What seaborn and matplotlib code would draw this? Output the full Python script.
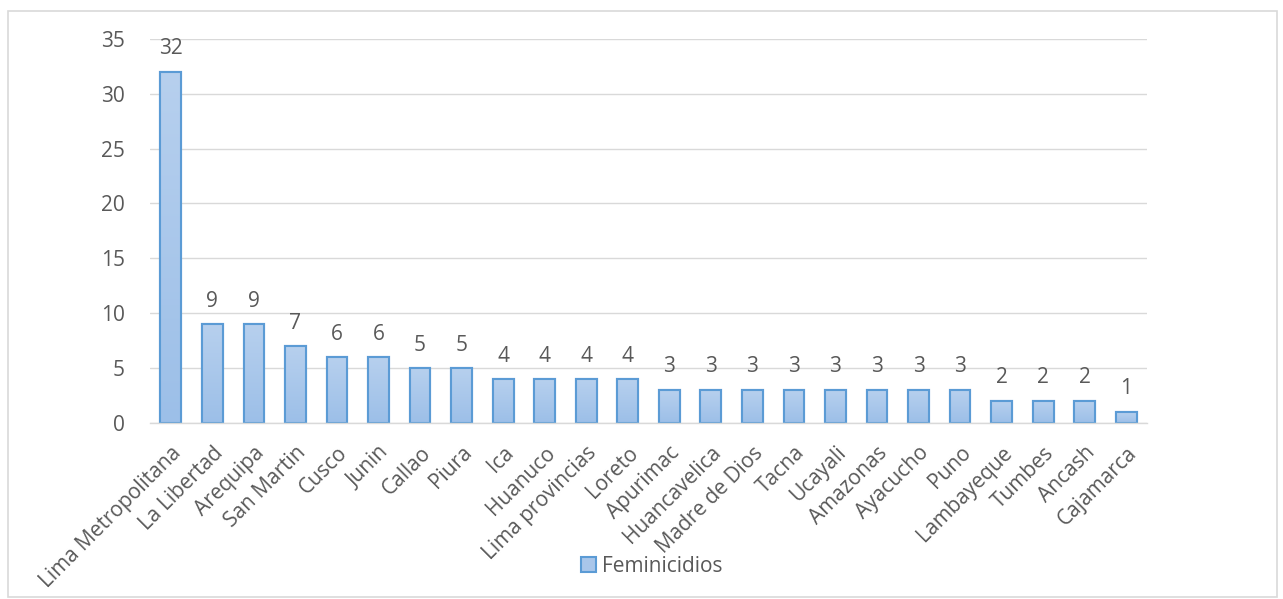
import matplotlib
matplotlib.use("Agg")
import matplotlib.pyplot as plt
import seaborn as sns
import pandas as pd
import numpy as np
from matplotlib.patches import Rectangle
from matplotlib.colors import LinearSegmentedColormap

regions = ["Lima Metropolitana", "La Libertad", "Arequipa", "San Martin", "Cusco", "Junin",
           "Callao", "Piura", "Ica", "Huanuco", "Lima provincias", "Loreto", "Apurimac",
           "Huancavelica", "Madre de Dios", "Tacna", "Ucayali", "Amazonas", "Ayacucho",
           "Puno", "Lambayeque", "Tumbes", "Ancash", "Cajamarca"]
values = [32, 9, 9, 7, 6, 6, 5, 5, 4, 4, 4, 4, 3, 3, 3, 3, 3, 3, 3, 3, 2, 2, 2, 1]
series_name = "Feminicidios"
yticks = [0, 5, 10, 15, 20, 25, 30, 35]

df = pd.DataFrame({"region": regions, "valor": values, "serie": series_name})

sns.set_theme(style="white")
plt.rcParams['font.family'] = ['Open Sans', 'DejaVu Sans']

fig = plt.figure(figsize=(12.83, 5.99), dpi=100)
ax = fig.add_axes([0.117, 0.294, 0.777, 0.641])

grey = "#595959"
fill = "#a9c6ea"
edge = "#5b9bd5"
sns.barplot(data=df, x="region", y="valor", hue="serie", palette=[fill],
            edgecolor=edge, linewidth=1.5, width=0.5, ax=ax, legend=False)

# vertical gradient inside each bar
cmap = LinearSegmentedColormap.from_list("g", ["#9cbfe8", "#b7d0ee"])
grad = np.linspace(0, 1, 256).reshape(-1, 1)
for p in list(ax.patches):
    x0, y0 = p.get_x(), p.get_y()
    w, h = p.get_width(), p.get_height()
    im = ax.imshow(grad, cmap=cmap, aspect="auto", origin="lower",
                   extent=[x0, x0 + w, y0, y0 + h], zorder=p.get_zorder() + 0.1)
    im.set_clip_path(p)
    p.set_facecolor("none")
    ax.add_patch(Rectangle((x0, y0), w, h, facecolor="none", edgecolor=edge,
                           linewidth=1.5, zorder=p.get_zorder() + 0.2))

for c in ax.containers:
    ax.bar_label(c, padding=9, fontsize=15, color=grey)

ax.set_ylim(0, 35)
ax.set_yticks(yticks)
ax.set_xlim(-0.5, len(regions) - 0.5)
ax.yaxis.grid(True, color="#d9d9d9", linewidth=1)
ax.set_axisbelow(True)
for s in ["top", "right", "left"]:
    ax.spines[s].set_visible(False)
ax.spines["bottom"].set_color("#d9d9d9")
ax.spines["bottom"].set_linewidth(1)
ax.tick_params(axis="y", labelsize=15, colors=grey, length=0, pad=18)
ax.tick_params(axis="x", labelsize=15, colors=grey, length=0, pad=14)
plt.setp(ax.get_xticklabels(), rotation=45, ha="right", va="top", rotation_mode="anchor")
ax.set_xlabel("")
ax.set_ylabel("")

handle = Rectangle((0, 0), 1, 1, facecolor=fill, edgecolor=edge, linewidth=1.5)
fig.legend([handle], [series_name], loc="center", bbox_to_anchor=(0.508, 0.055),
           frameon=False, fontsize=15, labelcolor=grey, handlelength=0.7,
           handleheight=0.7, handletextpad=0.3)

border = Rectangle((0.006, 0.003), 0.989, 0.978, transform=fig.transFigure,
                   fill=False, edgecolor="#d9d9d9", linewidth=1.2)
fig.add_artist(border)

fig.savefig("out.png", dpi=100)
